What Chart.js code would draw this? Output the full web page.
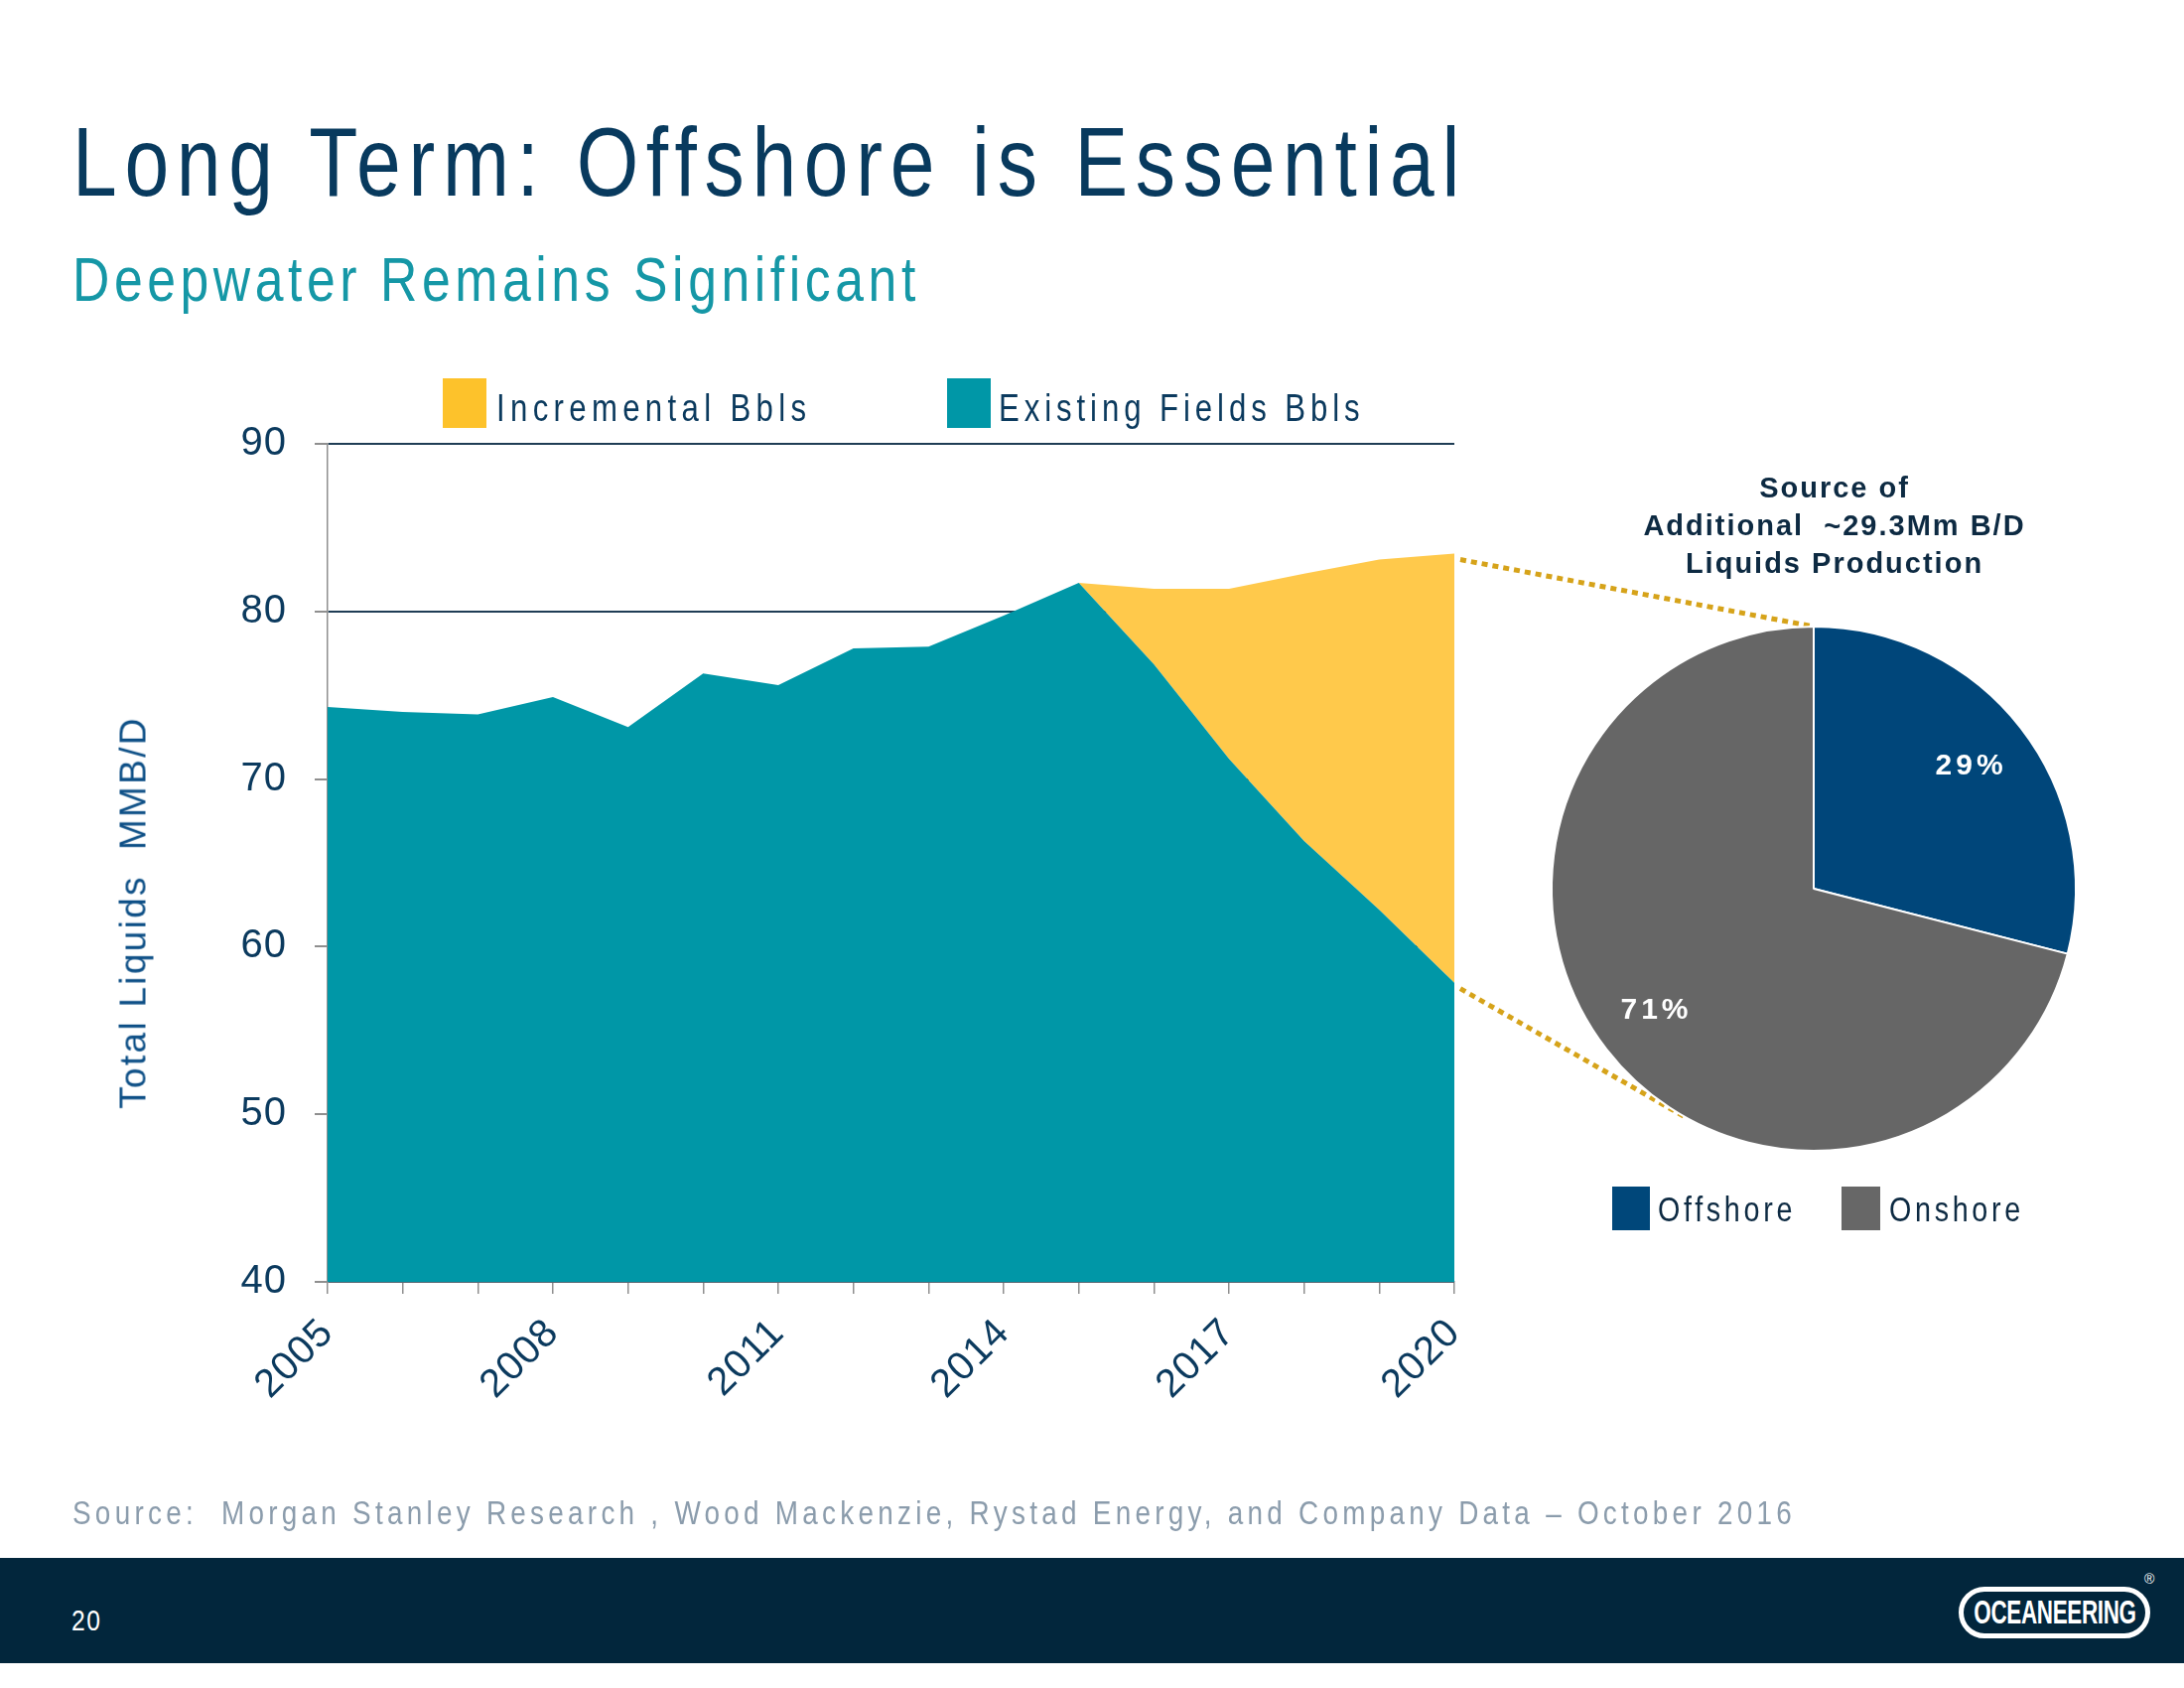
<!DOCTYPE html>
<html>
<head>
<meta charset="utf-8">
<script src="https://cdn.jsdelivr.net/npm/chart.js@4.4.0/dist/chart.umd.min.js"></script>
<style>
  html, body { margin: 0; padding: 0; background: #fff; }
  #page { position: relative; width: 2200px; height: 1700px; overflow: hidden;
          font-family: 'Liberation Sans', Arial, sans-serif; }
  .abs { position: absolute; white-space: nowrap; line-height: 1; }
  .narrow { transform: scaleX(0.82); transform-origin: 0 0; }
  canvas { position: absolute; }
  #area { left: 0; top: 0; z-index: 1; }
  #pie { left: 1547px; top: 615px; z-index: 2; }
  .txt { z-index: 3; }
  .sw { position: absolute; z-index: 3; }
</style>
</head>
<body>
<div id="page">
  <canvas id="area" width="2200" height="1569"></canvas>
  <canvas id="pie" width="560" height="560"></canvas>

  <div class="abs txt narrow" style="left:73px; top:114px; font-size:98px; letter-spacing:9.4px; color:#083a5e;">Long Term: Offshore is Essential</div>
  <div class="abs txt narrow" style="left:73px; top:250px; font-size:63px; letter-spacing:5.6px; color:#1597a6;">Deepwater Remains Significant</div>

  <!-- area legend -->
  <div class="sw" style="left:446px; top:381px; width:44px; height:50px; background:#fdc22b;"></div>
  <div class="abs txt narrow" style="left:500px; top:392px; font-size:38px; letter-spacing:6.5px; color:#0b3a5e;">Incremental Bbls</div>
  <div class="sw" style="left:954px; top:381px; width:44px; height:50px; background:#0097a7;"></div>
  <div class="abs txt narrow" style="left:1006px; top:392px; font-size:38px; letter-spacing:6px; color:#0b3a5e;">Existing Fields Bbls</div>

  <!-- y axis title -->
  <div class="abs txt" style="left:134px; top:919px; transform:translate(-50%,-50%) rotate(-90deg); font-size:37px; letter-spacing:2.3px; color:#0d4f86;">Total Liquids&nbsp; MMB/D</div>

  <!-- pie title and legend -->
  <div class="abs txt" style="left:1548px; top:472px; width:600px; text-align:center; font-weight:bold; font-size:29px; line-height:38px; letter-spacing:2px; color:#0d2a42;">Source of<br>Additional&nbsp; ~29.3Mm B/D<br>Liquids Production</div>
  <div class="sw" style="left:1624px; top:1195px; width:38px; height:44px; background:#00477a;"></div>
  <div class="abs txt narrow" style="left:1670px; top:1200px; font-size:35px; letter-spacing:4.5px; color:#0d2a42;">Offshore</div>
  <div class="sw" style="left:1855px; top:1195px; width:39px; height:44px; background:#676767;"></div>
  <div class="abs txt narrow" style="left:1903px; top:1200px; font-size:35px; letter-spacing:4.5px; color:#0d2a42;">Onshore</div>

  <!-- source and footer -->
  <div class="abs txt narrow" style="left:73px; top:1506px; font-size:34px; letter-spacing:5.2px; color:#8b9cac;">Source:&nbsp; Morgan Stanley Research , Wood Mackenzie, Rystad Energy, and Company Data – October 2016</div>
  <div class="abs" style="left:0; top:1569px; width:2200px; height:106px; background:#02263c;"></div>
  <div class="abs txt narrow" style="left:72px; top:1617px; font-size:30px; letter-spacing:2px; color:#fff;">20</div>
  <div class="abs txt" style="left:1973px; top:1598px; width:183px; height:42px; border:5px solid #fff; border-radius:26px; overflow:hidden;">
    <div style="position:absolute; left:50%; top:0; color:#fff; font-weight:bold; font-size:33px; line-height:42px; letter-spacing:-0.5px; white-space:nowrap; transform:translateX(-50%) scaleX(0.68);">OCEANEERING</div>
  </div>
  <div class="abs txt" style="left:2160px; top:1583px; font-size:14px; color:#fff;">®</div>
</div>

<script>
// area chart data
const years = ['2005', '2006', '2007', '2008', '2009', '2010', '2011', '2012',
               '2013', '2014', '2015', '2016', '2017', '2018', '2019', '2020'];
const existingFields = [74.3, 74.0, 73.85, 74.9, 73.1, 76.3, 75.6, 77.8,
                        77.9, 79.75, 81.7, 76.85, 71.2, 66.3, 62.2, 57.85];
const incremental = [0, 0, 0, 0, 0, 0, 0, 0,
                     0, 0, 0, 4.5, 10.15, 15.95, 20.9, 25.6];
const yTicks = [40, 50, 60, 70, 80, 90];

// pie data
const pieLabels = ['Offshore', 'Onshore'];
const pieValues = [29, 71];

const REGULAR = "'Liberation Sans', Arial, sans-serif";

// canvas letter spacing for library-drawn text
const spacing = {
    id: 'spacing',
    beforeDraw(chart, args, opts) {
        chart.ctx.letterSpacing = opts.value || '0px';
    }
};

// percentage labels inside slices
const sliceLabels = {
    id: 'sliceLabels',
    afterDatasetsDraw(chart) {
        const ctx = chart.ctx;
        const meta = chart.getDatasetMeta(0);
        const total = pieValues.reduce((a, b) => a + b, 0);
        ctx.save();
        ctx.font = 'bold 30px ' + REGULAR;
        ctx.letterSpacing = '4px';
        ctx.fillStyle = '#ffffff';
        ctx.textAlign = 'center';
        ctx.textBaseline = 'middle';
        meta.data.forEach((arc, i) => {
            const mid = (arc.startAngle + arc.endAngle) / 2;
            const r = arc.outerRadius * 0.76;
            ctx.fillText(Math.round(pieValues[i] / total * 100) + '%',
                arc.x + Math.cos(mid) * r, arc.y + Math.sin(mid) * r);
        });
        ctx.restore();
    }
};

const pieChart = new Chart(document.getElementById('pie'), {
    type: 'pie',
    data: {
        labels: pieLabels,
        datasets: [{
            data: pieValues,
            backgroundColor: ['#00467a', '#666666'],
            borderColor: '#ffffff',
            borderWidth: 2,
            hoverOffset: 0
        }]
    },
    options: {
        responsive: false,
        animation: false,
        layout: { padding: 15 },
        plugins: { legend: { display: false }, tooltip: { enabled: false } }
    },
    plugins: [sliceLabels]
});

// dotted gold lines from the 2020 values to the pie
const connectors = {
    id: 'connectors',
    afterDatasetsDraw(chart) {
        const last = years.length - 1;
        const topPt = chart.getDatasetMeta(1).data[last];
        const lowPt = chart.getDatasetMeta(0).data[last];
        const arc = pieChart.getDatasetMeta(0).data[0];
        const ox = pieChart.canvas.offsetLeft - chart.canvas.offsetLeft;
        const oy = pieChart.canvas.offsetTop - chart.canvas.offsetTop;
        const cx = ox + arc.x, cy = oy + arc.y, R = arc.outerRadius;

        const ctx = chart.ctx;
        ctx.save();
        ctx.strokeStyle = '#d6a31a';
        ctx.lineWidth = 5;
        ctx.setLineDash([6, 5]);

        // upper line ends where the first slice starts
        ctx.beginPath();
        ctx.moveTo(topPt.x + 6, topPt.y + 6);
        ctx.lineTo(cx + Math.cos(arc.startAngle) * R, cy + Math.sin(arc.startAngle) * R);
        ctx.stroke();

        // lower line is tangent to the pie
        const px = lowPt.x + 6, py = lowPt.y + 6;
        const d = Math.hypot(px - cx, py - cy);
        const a = Math.atan2(py - cy, px - cx) - Math.acos(R / d);
        ctx.beginPath();
        ctx.moveTo(px, py);
        ctx.lineTo(cx + Math.cos(a) * R, cy + Math.sin(a) * R);
        ctx.stroke();
        ctx.restore();
    }
};

new Chart(document.getElementById('area'), {
    type: 'line',
    data: {
        labels: years,
        datasets: [{
            label: 'Existing Fields Bbls',
            data: existingFields,
            backgroundColor: '#0097a7',
            fill: 'start'
        }, {
            label: 'Incremental Bbls',
            data: incremental,
            backgroundColor: '#ffc94b',
            fill: '-1'
        }]
    },
    options: {
        responsive: false,
        animation: false,
        layout: { padding: { left: 0, right: 735, top: 447, bottom: 128 } },
        elements: {
            point: { radius: 0 },
            line: { borderWidth: 0, tension: 0 }
        },
        plugins: {
            legend: { display: false },
            tooltip: { enabled: false },
            spacing: { value: '1px' }
        },
        scales: {
            x: {
                grid: { drawOnChartArea: false, tickColor: '#8f8f8f', tickLength: 12, lineWidth: 1.5 },
                border: { color: '#8f8f8f', width: 1.5 },
                ticks: {
                    autoSkip: false,
                    minRotation: 45,
                    maxRotation: 45,
                    padding: 16,
                    color: '#0b3a5e',
                    font: { family: REGULAR, size: 40 },
                    callback: (v, i) => (i % 3 === 0 ? years[i] : '')
                },
                afterFit(scale) { scale.height = 150; }
            },
            y: {
                stacked: true,
                min: 40,
                max: 90,
                afterBuildTicks(scale) { scale.ticks = yTicks.map(v => ({ value: v })); },
                grid: { color: '#1f3d55', lineWidth: 2, tickColor: '#8f8f8f', tickLength: 13 },
                border: { color: '#8f8f8f', width: 1.5 },
                ticks: {
                    padding: 28,
                    color: '#0b3a5e',
                    font: { family: REGULAR, size: 40 }
                },
                afterFit(scale) { scale.width = 330; }
            }
        }
    },
    plugins: [spacing, connectors]
});
</script>
</body>
</html>
